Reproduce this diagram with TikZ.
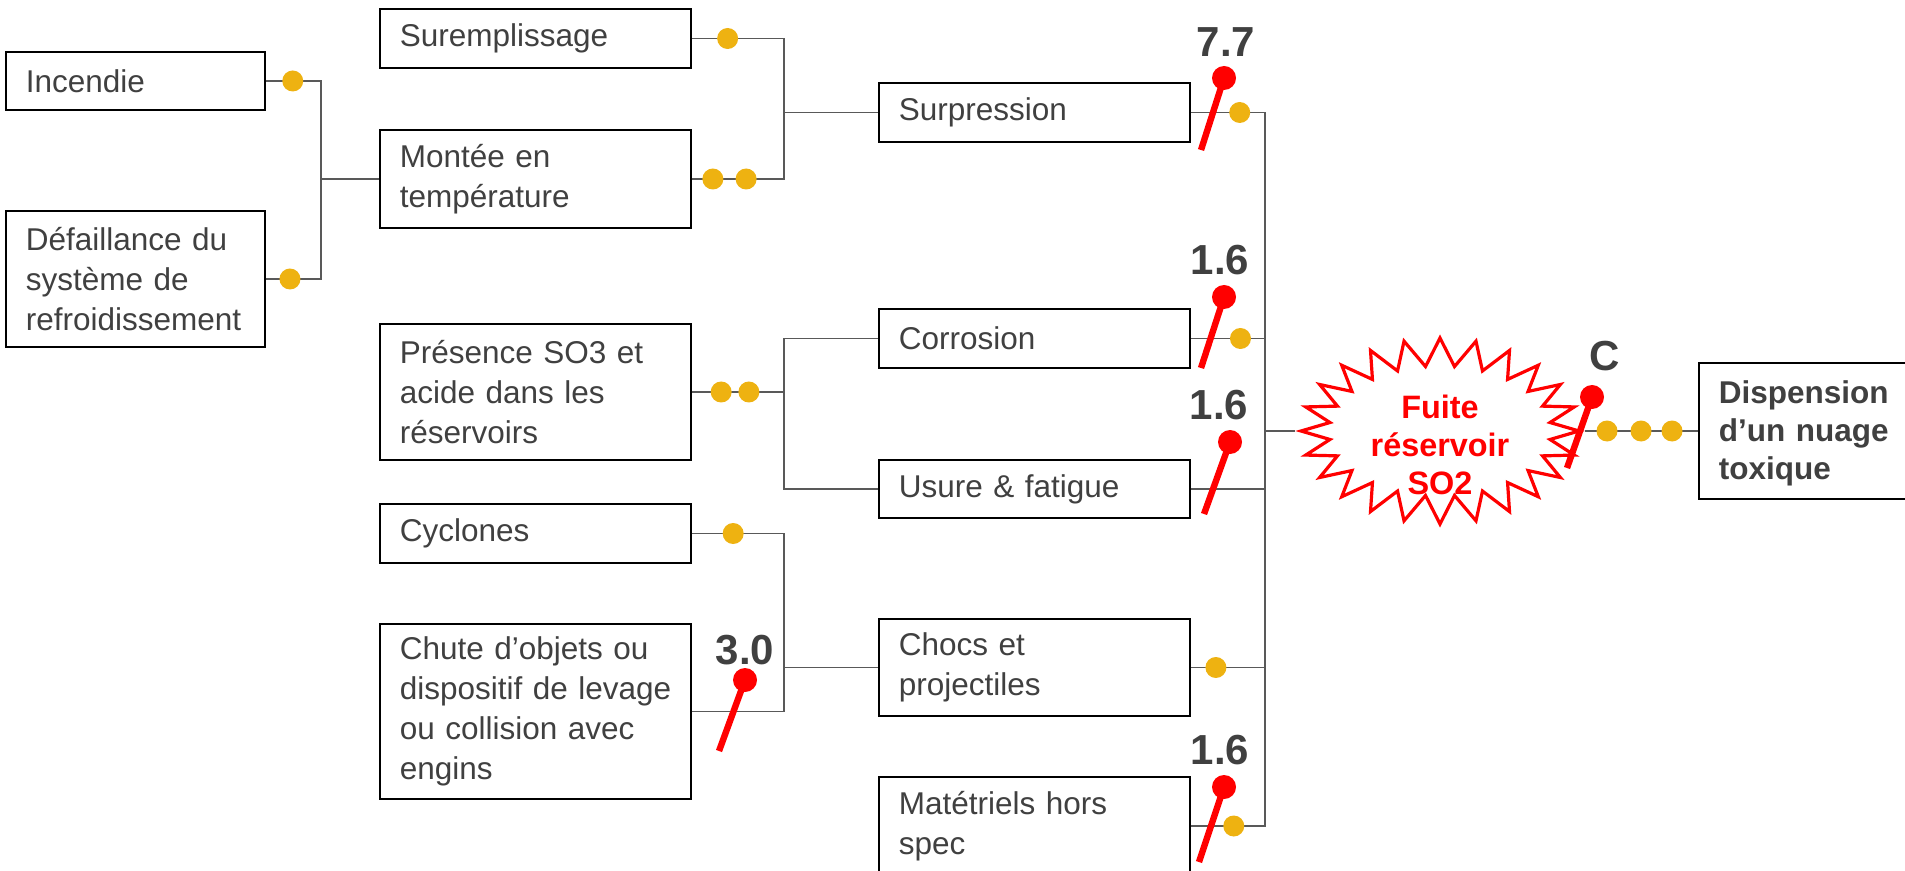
\documentclass[tikz,border=0pt]{standalone}
\usepackage{fontspec}
\setmainfont{Liberation Sans}
\usetikzlibrary{shapes.symbols}

\definecolor{txtgray}{HTML}{404040}
\definecolor{linegray}{HTML}{595959}
\definecolor{dotyellow}{HTML}{EEB211}

\begin{document}
\begin{tikzpicture}[
    x=0.5pt, y=-0.5pt,
    every node/.style={font=\fontsize{15.75}{20}\selectfont, text=txtgray},
    evt/.style={draw=black, line width=0.8pt, rectangle, align=left, anchor=west, inner xsep=10pt, inner ysep=0pt},
    wide/.style={text width=135.5pt}, % boites de 311px
    narrow/.style={text width=109.5pt}, % boites de 259px
    link/.style={draw=linegray, line width=0.85pt},
    ydot/.style={circle, fill=dotyellow, inner sep=0pt, minimum size=10.5pt},
    pinhead/.style={circle, fill=red, inner sep=0pt, minimum size=12pt, label distance=0pt},
    pinline/.style={draw=red, line width=3.2pt},
    score/.style={font=\bfseries\fontsize{21}{25}\selectfont, inner sep=0pt, yshift=4.5pt},
    burst/.style={starburst, starburst points=24, starburst point height=14pt, random starburst=0, draw=red, line width=1.6pt, fill=white, minimum width=139pt, minimum height=93pt},
    burst text/.style={align=center, text=red, inner sep=0pt, font=\bfseries\fontsize{16.2}{19}\selectfont}
    ]
    \useasboundingbox (0,0) rectangle (1905,871);

    % evenements
    \node[evt, narrow, minimum height=29pt] (incendie) at (5,81) {Incendie};
    \node[evt, narrow, minimum height=68pt] (defaill) at (5,279) {Défaillance du\\système de\\refroidissement};
    \node[evt, wide, minimum height=29.5pt] (surempl) at (379,38.5) {Suremplissage};
    \node[evt, wide, minimum height=49pt] (montee) at (379,179) {Montée en\\température};
    \node[evt, wide, minimum height=29.5pt] (surpr) at (878,112.5) {Surpression};
    \node[evt, wide, minimum height=68pt] (presence) at (379,392) {Présence SO3 et\\acide dans les\\réservoirs};
    \node[evt, wide, minimum height=29.5pt] (corros) at (878,338.5) {Corrosion};
    \node[evt, wide, minimum height=29pt] (usure) at (878,489) {Usure \& fatigue};
    \node[evt, wide, minimum height=29.5pt] (cyclones) at (379,533.5) {Cyclones};
    \node[evt, wide, minimum height=87.5pt] (chute) at (379,711.5) {Chute d’objets ou\\\mbox{dispositif de levage}\\ou collision avec\\engins};
    \node[evt, wide, minimum height=48.5pt] (chocs) at (878,667.5) {Chocs et\\projectiles};
    \node[evt, wide, minimum height=49pt] (mater) at (878,826) {Matétriels hors\\spec};
    \node[burst, label={[burst text, yshift=-7pt]center:{Fuite\\réservoir\\SO2}}] (fuite) at (1440,431) {};
    \node[evt, minimum height=68pt, text width=95pt, font=\bfseries\fontsize{15.75}{19}\selectfont] (nuage) at (1698,431) {\rule{0pt}{14pt}Dispension\\d’un nuage\\toxique};

    % liaisons
    \draw[link] (incendie.east) -- node[ydot, pos=.49]{} (321,81) |- (montee.west);
    \draw[link] (defaill.east) -- node[ydot, pos=.44]{} (321,279) |- (montee.west);
    \draw[link] (surempl.east) -- node[ydot, pos=.39]{} (784,38.5) |- (surpr.west);
    \draw[link] (montee.east) -- node[ydot, pos=.23]{} node[ydot, pos=.59]{} (784,179) |- (surpr.west);
    \draw[link] (presence.east) -- node[ydot, pos=.32]{} node[ydot, pos=.62]{} (784,392) |- (corros.west);
    \draw[link] (784,392) |- (usure.west);
    \draw[link] (cyclones.east) -- node[ydot, pos=.45]{} (784,533.5) |- (chocs.west);
    \draw[link] (chute.east) -- (784,711.5) |- (chocs.west);
    \draw[link] (surpr.east) -- node[ydot, pos=.66]{} (1265,112.5) |- (fuite.west);
    \draw[link] (corros.east) -- node[ydot, pos=.67]{} (1265,338.5) |- (fuite.west);
    \draw[link] (usure.east) -- (1265,489) |- (fuite.west);
    \draw[link] (chocs.east) -- node[ydot, pos=.34]{} (1265,667.5) |- (fuite.west);
    \draw[link] (mater.east) -- node[ydot, pos=.58]{} (1265,826) |- (fuite.west);
    \draw[link] (fuite.east) -- (nuage.west);
    \node[ydot] at (1607,431) {};
    \node[ydot] at (1641,431) {};
    \node[ydot] at (1672,431) {};

    % barrieres
    \node[pinhead, label={[score, xshift=1pt]above:7.7}] (p1) at (1224,78) {};
    \draw[pinline] (1201,150) -- (p1.center);
    \node[pinhead, label={[score, xshift=-2pt]above:1.6}] (p2) at (1224,297) {};
    \draw[pinline] (1201,368) -- (p2.center);
    \node[pinhead, label={[score, xshift=-5.5pt]above:1.6}] (p3) at (1230,442) {};
    \draw[pinline] (1204,514) -- (p3.center);
    \node[pinhead, label={[score, xshift=-2pt]above:1.6}] (p4) at (1224,787) {};
    \draw[pinline] (1199,862) -- (p4.center);
    \node[pinhead, label={[score, yshift=-3.25pt]above:3.0}] (p5) at (745,680) {};
    \draw[pinline] (719,751) -- (p5.center);
    \node[pinhead, label={[score, xshift=6.5pt, yshift=2pt]above:C}] (p6) at (1592,397) {};
    \draw[pinline] (1567,468) -- (p6.center);
\end{tikzpicture}
\end{document}
